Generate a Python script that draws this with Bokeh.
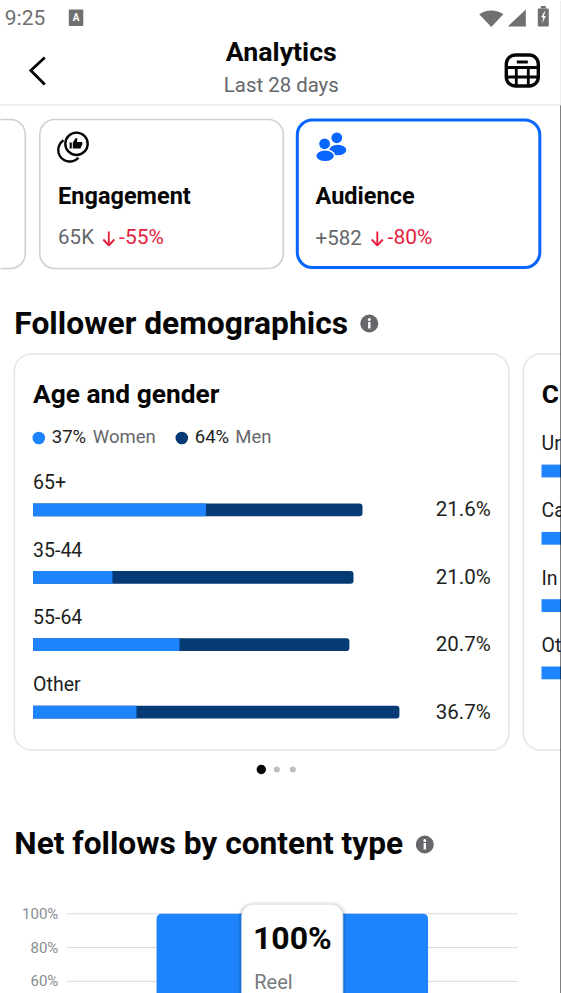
import numpy as np
from bokeh.core.properties import value
from bokeh.embed import file_html
from bokeh.models import FixedTicker, LinearAxis, Range1d
from bokeh.plotting import figure
from bokeh.resources import INLINE

# ---- data ----
age_groups = ["65+", "35-44", "55-64", "Other"]
women_share = [11.37, 5.22, 9.63, 6.80]
men_share = [10.30, 15.86, 11.18, 17.30]
age_labels = ["21.6%", "21.0%", "20.7%", "36.7%"]
countries = ["Ur", "Ca", "In", "Ot"]
country_share = [1.3, 1.3, 1.3, 1.3]
content_types = ["Reel"]
content_values = [100]
pct_ticks = [100, 80, 60]
pct_tick_labels = ["100%", "80%", "60%"]
card_titles = ["Engagement", "Audience"]
card_values = ["65K", "+582"]
card_changes = ["-55%", "-80%"]

# ---- colours ----
BLUE = "#1d84fd"
NAVY = "#063a75"
INK = "#050505"
GREY = "#65676b"
RED = "#e41e3f"
EDGE = "#ced0d4"
SOFT = "#e4e6eb"
FB = "#0866ff"
ROBOTO = value("Roboto")

W, H = 561, 993
SHIFT = 0.7
X0, X1, Y0, Y1 = SHIFT, 561 + SHIFT, 0, 993

p = figure(width=W, height=H, output_backend="svg", toolbar_location=None,
           x_range=Range1d(X0, X1), y_range=Range1d(Y1, Y0),
           x_axis_type=None, y_axis_type=None, min_border=0,
           outline_line_color=None, background_fill_color="white")
p.grid.visible = False

# scales for the data
BAR_X, PX_PCT = 33.3, 15.2
ROW_Y, ROW_H = 509.4, 67.4
p.extra_x_ranges["share"] = Range1d((X0 - BAR_X) / PX_PCT, (X1 - BAR_X) / PX_PCT)
C_X = 541.7
p.extra_x_ranges["country"] = Range1d((X0 - C_X) / PX_PCT, (X1 - C_X) / PX_PCT)
p.extra_y_ranges["rows"] = Range1d((Y1 - ROW_Y) / ROW_H, (Y0 - ROW_Y) / ROW_H)
C_Y, C_H = 470.5, 67.3
p.extra_y_ranges["crows"] = Range1d((Y1 - C_Y) / C_H, (Y0 - C_Y) / C_H)
PCT_Y, PX_V = 913.3, 1.69
p.extra_y_ranges["pct"] = Range1d(100 - (Y1 - PCT_Y) / PX_V, 100 + (PCT_Y - Y0) / PX_V)


def T(x, y, s, size, color=INK, bold=False, align="left", **kw):
    p.text(x=[x], y=[y - 0.36 * size], text=[s], text_font=ROBOTO, text_font_size=f"{size}px",
           text_color=color, text_font_style="bold" if bold else "normal",
           text_align=align, text_baseline="alphabetic", **kw)


def arc(cx, cy, r, a0, a1, n=60):
    t = np.radians(np.linspace(a0, a1, n))
    return cx + r * np.cos(t), cy + r * np.sin(t)


def info(cx, cy):
    p.circle(x=[cx], y=[cy], radius=9, fill_color=GREY, line_color=None)
    p.quad(left=[cx - 1.2], right=[cx + 1.2], top=[cy - 1.5], bottom=[cy + 5],
           fill_color="white", line_color=None)
    p.circle(x=[cx], y=[cy - 4], radius=1.5, fill_color="white", line_color=None)


# status bar
STATUS = "#707070"
T(5, 25, "9:25", 21, STATUS)
p.quad(left=[69], right=[83.5], top=[9], bottom=[25.5], fill_color=STATUS, line_color=None,
       border_radius=1)
T(76.2, 21, "A", 10, "white", bold=True, align="center")
wx, wy = arc(491.5, 31, 21, 235, 305)
p.patch(x=list(wx) + [491.5], y=list(wy) + [26.5], fill_color=STATUS, line_color=None)
p.patch(x=[508, 526, 526], y=[26, 26, 9], fill_color=STATUS, line_color=None)
p.quad(left=[538], right=[549], top=[8], bottom=[26], fill_color=STATUS, line_color=None,
       border_radius=1)
p.quad(left=[541], right=[546], top=[5.5], bottom=[8], fill_color=STATUS, line_color=None)
p.patch(x=[544.5, 541.5, 543.5, 542.5, 546, 544, 545.5],
        y=[11, 17, 17, 23, 15.5, 15.5, 11], fill_color="white", line_color=None)

# header
T(281.5, 61.5, "Analytics", 26.7, INK, bold=True, align="center")
T(281.5, 92, "Last 28 days", 20.4, GREY, align="center")
p.line(x=[45, 31, 45], y=[57, 70, 84], line_color=INK, line_width=2.8,
       line_join="miter")
# table icon
p.quad(left=[506.5], right=[538.5], top=[54.5], bottom=[85.5], fill_color="white",
       line_color=INK, line_width=3.4, border_radius=9)
p.quad(left=[517], right=[528], top=[60], bottom=[63], fill_color=INK, line_color=None)
p.segment(x0=[506.5, 506.5, 516.5, 528.5], x1=[538.5, 538.5, 516.5, 528.5],
          y0=[67, 76.5, 67, 67], y1=[67, 76.5, 85, 85],
          line_color=INK, line_width=2.8)
p.line(x=[X0, X1], y=[104.5, 104.5], line_color="#dadde1", line_width=1)

# summary cards
p.quad(left=[-40], right=[25.5], top=[119], bottom=[268], fill_color="white",
       line_color=EDGE, line_width=1.6, border_radius=15)
p.quad(left=[40], right=[283.5], top=[119], bottom=[268], fill_color="white",
       line_color=EDGE, line_width=1.6, border_radius=15)
p.quad(left=[297.5], right=[540], top=[119.5], bottom=[267], fill_color="white",
       line_color=FB, line_width=3, border_radius=15)

# thumbs icon
p.circle(x=[76.7], y=[143.3], radius=11.2, fill_color="white", line_color=INK, line_width=2.4)
cx_, cy_ = arc(70, 149.5, 11.5, 237, 42)
p.line(x=cx_, y=cy_, line_color=INK, line_width=2.4)
p.quad(left=[69.8], right=[72], top=[142], bottom=[148], fill_color=INK, line_color=None)
p.patch(x=[73, 73, 76, 77.6, 77.2, 82.4, 82.6, 80.6],
        y=[148, 142, 137.5, 138, 141.5, 141.5, 143.5, 148], fill_color=INK, line_color=None)
# people icon
p.circle(x=[337], y=[137.3], radius=5.4, fill_color=FB, line_color=None)
p.ellipse(x=[338], y=[149.5], width=17, height=10.5, fill_color=FB, line_color=None)
p.circle(x=[324.8], y=[143.3], radius=5.4, fill_color=FB, line_color=None)
p.ellipse(x=[325.3], y=[155.3], width=19, height=12, fill_color=FB, line_color="white",
          line_width=1.5)

for x_text, x_arrow, x_change, title, val, change in zip(
        [58.3, 315.7], [109, 377.5], [119.3, 387.8], card_titles, card_values, card_changes):
    T(x_text, 204.3, title, 23.5, INK, bold=True)
    T(x_text, 244, val, 20.5, GREY)
    p.segment(x0=[x_arrow, x_arrow - 5.5, x_arrow + 5.5], x1=[x_arrow, x_arrow, x_arrow],
              y0=[231, 239, 239], y1=[245, 245, 245], line_color=RED, line_width=1.9)
    T(x_change, 244, change, 21, RED)

# Follower demographics
T(14.5, 333.5, "Follower demographics", 31.8, INK, bold=True)
info(369.5, 323)
p.quad(left=[14.5], right=[509], top=[353.5], bottom=[749.5], fill_color="white",
       line_color=SOFT, line_width=1.6, border_radius=17)
p.quad(left=[523.5], right=[640], top=[353.5], bottom=[749.5], fill_color="white",
       line_color=SOFT, line_width=1.6, border_radius=17)
T(33.3, 403, "Age and gender", 26.3, INK, bold=True)
p.circle(x=[39], y=[437.5], radius=6.3, fill_color=BLUE, line_color=None)
T(52, 443, "37%", 18.5, "#1c1e21")
T(93, 443, "Women", 18.5, GREY)
p.circle(x=[182], y=[437.5], radius=6.3, fill_color=NAVY, line_color=None)
T(195, 443, "64%", 18.5, "#1c1e21")
T(235.5, 443, "Men", 18.5, GREY)

rows = list(range(len(age_groups)))
right_men = [a + b for a, b in zip(women_share, men_share)]
BAR_H = 12.8 / ROW_H
p.hbar(y=rows, left=0, right=right_men, height=BAR_H, fill_color=NAVY, line_color=None,
       border_radius=(0, 3, 3, 0), x_range_name="share", y_range_name="rows")
p.hbar(y=rows, left=0, right=women_share, height=BAR_H, fill_color=BLUE, line_color=None,
       x_range_name="share", y_range_name="rows")
p.text(x=[0] * len(rows), y=rows, text=age_groups, y_offset=-28,
       x_range_name="share", y_range_name="rows", text_font=ROBOTO,
       text_font_size="19.5px", text_color="#1c1e21", text_baseline="alphabetic")
p.text(x=[491] * len(rows), y=rows, text=age_labels, y_offset=-0.5,
       y_range_name="rows", text_font=ROBOTO, text_font_size="20.5px",
       text_color="#1c1e21", text_align="right", text_baseline="alphabetic")

# second card, running off the screen
T(542, 403, "C", 26.3, INK, bold=True)
crows = list(range(len(countries)))
p.hbar(y=crows, left=0, right=country_share, height=12.8 / C_H, fill_color=BLUE, line_color=None,
       x_range_name="country", y_range_name="crows")
p.text(x=[0] * len(crows), y=crows, text=countries, y_offset=-27.5,
       x_range_name="country", y_range_name="crows", text_font=ROBOTO,
       text_font_size="19.5px", text_color="#1c1e21", text_baseline="alphabetic")

# pagination
p.circle(x=[261.5], y=[769], radius=4.7, fill_color=INK, line_color=None)
p.circle(x=[277, 293], y=[769, 769], radius=3, fill_color="#bcc0c4", line_color=None)

# Net follows
T(14.5, 854, "Net follows by content type", 31.7, INK, bold=True)
info(425, 844)
p.segment(x0=[67] * len(pct_ticks), x1=[518] * len(pct_ticks), y0=pct_ticks, y1=pct_ticks,
          line_color="#d8dade", line_width=1, y_range_name="pct")
axis = LinearAxis(y_range_name="pct", ticker=FixedTicker(ticks=pct_ticks),
                  major_label_overrides=dict(zip(pct_ticks, pct_tick_labels)),
                  axis_line_color=None, major_tick_line_color=None, minor_tick_line_color=None,
                  major_label_text_color="#8a8d91", major_label_text_font="Roboto",
                  major_label_text_font_size="15px", major_label_standoff=2,
                  fixed_location=66.5)
p.add_layout(axis, "left")
p.vbar(x=[292.5], width=271.5, top=content_values, bottom=0, fill_color=BLUE, line_color=None,
       border_radius=(5, 5, 0, 0), y_range_name="pct")
for grow, alpha in [(4, 0.03), (3, 0.04), (2, 0.05), (1, 0.07)]:
    p.quad(left=[242 - grow], right=[343 + grow], top=[904 - grow + 1], bottom=[1010],
           fill_color="black", fill_alpha=alpha, line_color=None, border_radius=11 + grow)
p.quad(left=[242], right=[343], top=[904], bottom=[1010], fill_color="white",
       line_color="#e8e9ec", line_width=1, border_radius=11)
T(292.5, 949, f"{content_values[0]}%", 32, INK, bold=True, align="center")
T(254.5, 989, content_types[0], 20, "#77797d")

# device edge
p.segment(x0=[560.5 + SHIFT, 560.5 + SHIFT], x1=[560.5 + SHIFT, 560.5 + SHIFT], y0=[0, 105], y1=[105, 993],
          line_color=["#dddddd", "#000000"], line_width=1)

open("out.html", "w").write(file_html(p, INLINE))
